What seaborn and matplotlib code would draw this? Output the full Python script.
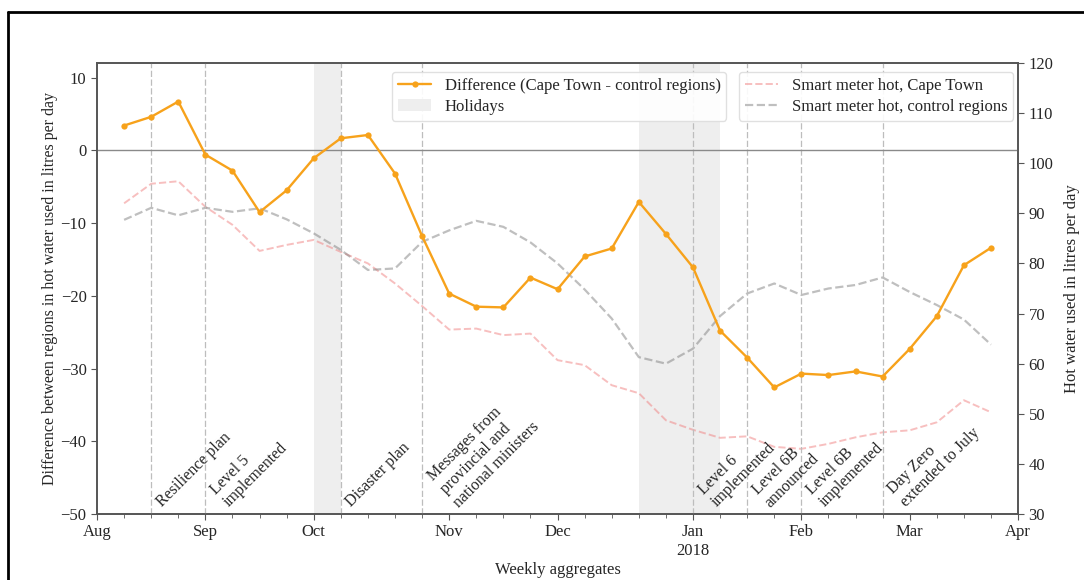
import matplotlib
matplotlib.use("Agg")
import matplotlib.pyplot as plt
import matplotlib.transforms as mtransforms
from matplotlib.lines import Line2D
from matplotlib.patches import Patch
import numpy as np
import pandas as pd
import seaborn as sns

# Weekly aggregates, week 0 = first week of August 2017
weeks = list(range(1, 34))

difference = [3.4, 4.6, 6.7, -0.6, -2.8, -8.5, -5.5, -1.1, 1.65, 2.1,
              -3.2, -11.8, -19.7, -21.5, -21.6, -17.5, -19.1, -14.6, -13.5, -7.1,
              -11.5, -16.1, -24.8, -28.5, -32.6, -30.7, -30.9, -30.4, -31.1, -27.3,
              -22.8, -15.8, -13.4]

hot_cape_town = [92.0, 95.9, 96.4, 91.3, 87.7, 82.5, 83.7, 84.7, 82.3, 80.0,
                 76.0, 71.5, 66.8, 67.0, 65.7, 66.0, 60.7, 59.7, 55.7, 54.1,
                 48.7, 46.8, 45.2, 45.5, 43.4, 43.0, 44.0, 45.3, 46.3, 46.7,
                 48.3, 52.7, 50.3]

hot_control = [88.7, 91.1, 89.6, 91.1, 90.3, 91.0, 88.8, 86.0, 82.7, 78.7,
               79.0, 84.3, 86.6, 88.5, 87.3, 84.2, 80.0, 74.8, 69.0, 61.3,
               60.0, 63.0, 69.5, 74.0, 76.0, 73.7, 75.0, 75.7, 77.2, 74.3,
               71.7, 68.8, 63.8]

month_ticks = [0, 4, 8, 13, 17, 22, 26, 30, 34]
month_labels = ["Aug", "Sep", "Oct", "Nov", "Dec", "Jan\n2018", "Feb", "Mar", "Apr"]

holidays = [(8, 9), (20, 23)]

event_weeks = [2, 4, 9, 12, 22, 24, 26, 29]
event_labels = ["Resilience plan", "Level 5\nimplemented", "Disaster plan",
                "Messages from\nprovincial and\nnational ministers",
                "Level 6\nimplemented", "Level 6B\nannounced",
                "Level 6B\nimplemented", "Day Zero\nextended to July"]

sns.set_style("ticks")
plt.rcParams["font.family"] = ["Liberation Serif", "DejaVu Serif"]
plt.rcParams["font.size"] = 12

df = pd.DataFrame({"week": weeks, "difference": difference,
                   "cape_town": hot_cape_town, "control": hot_control})

fig = plt.figure(figsize=(10.84, 5.8), dpi=100)
ax = fig.add_axes([0.0895, 0.1138, 0.8497, 0.7776])
ax2 = ax.twinx()

orange = "#f7a21b"
holiday_color = "#eeeeee"
pink = "#f08080"
grey = "#808080"

# holiday shading behind everything
for start, end in holidays:
    ax2.axvspan(start, end, color=holiday_color, lw=0, zorder=0)

# smart meter series on the right axis
sns.lineplot(data=df, x="week", y="cape_town", ax=ax2, color=pink,
             alpha=0.5, lw=1.4, ls="--", legend=False, zorder=2)
sns.lineplot(data=df, x="week", y="control", ax=ax2, color=grey,
             alpha=0.5, lw=1.6, ls="--", legend=False, zorder=2)

# policy events and zero line
for w in event_weeks:
    ax.axvline(w, color="#bdbdbd", lw=0.9, ls=(0, (5, 2)), zorder=1)
ax.axhline(0, color="#8a8a8a", lw=1.0, zorder=1)

# difference series on the left axis
sns.lineplot(data=df, x="week", y="difference", ax=ax, color=orange,
             lw=1.7, marker="o", markersize=4.5, markeredgewidth=0,
             legend=False, zorder=5)

ax.set_zorder(ax2.get_zorder() + 1)
ax.patch.set_visible(False)

ax.set_xlim(0, 34)
ax.set_ylim(-50, 12)
ax2.set_ylim(30, 120)
ax.set_yticks([10, 0, -10, -20, -30, -40, -50])
ax2.set_yticks(range(30, 121, 10))
ax.set_xticks(month_ticks)
ax.set_xticklabels(month_labels)
ax.set_xticks(range(0, 35), minor=True)
ax.tick_params(axis="x", which="minor", length=3, color="#555555")
ax.tick_params(axis="both", which="major", length=4, labelsize=12, color="#555555")
ax2.tick_params(axis="y", length=4, labelsize=12, color="#555555")

for a in (ax, ax2):
    for s in a.spines.values():
        s.set_color("#555555")
        s.set_linewidth(1.2)

ax.set_xlabel("Weekly aggregates", fontsize=12, labelpad=2)
ax.set_ylabel("Difference between regions in hot water used in litres per day",
              fontsize=11.5, labelpad=2)
ax2.set_ylabel("Hot water used in litres per day", fontsize=12, labelpad=8)

# event annotations along the bottom
trans = mtransforms.blended_transform_factory(ax.transData, ax.transAxes)
for w, label in zip(event_weeks, event_labels):
    ax.text(w + 0.08, 0.008, label, transform=trans, rotation=45,
            ha="left", va="bottom", fontsize=11.5, zorder=6)

handles1 = [Line2D([], [], color=orange, lw=1.7, marker="o", markersize=4.5,
                   markeredgewidth=0),
            Patch(facecolor=holiday_color, edgecolor="none")]
leg1 = ax.legend(handles1, ["Difference (Cape Town - control regions)", "Holidays"],
                 loc="upper left", bbox_to_anchor=(0.3203, 0.98), borderaxespad=0,
                 fontsize=12, frameon=True, handlelength=2.0, borderpad=0.35,
                 labelspacing=0.3)
handles2 = [Line2D([], [], color=pink, alpha=0.5, lw=1.4, ls="--"),
            Line2D([], [], color=grey, alpha=0.5, lw=1.6, ls="--")]
leg2 = ax.legend(handles2, ["Smart meter hot, Cape Town", "Smart meter hot, control regions"],
                 loc="upper right", bbox_to_anchor=(0.9946, 0.98), borderaxespad=0,
                 fontsize=12, frameon=True, handlelength=2.0, borderpad=0.35,
                 labelspacing=0.3)
ax.add_artist(leg1)
for leg in (leg1, leg2):
    leg.get_frame().set_edgecolor("#dddddd")
    leg.get_frame().set_alpha(0.9)

# figure frame along the top and left edges
fig.add_artist(Line2D([8 / 1084, 8 / 1084], [0, 1 - 12 / 580], color="black",
                      lw=2, transform=fig.transFigure))
fig.add_artist(Line2D([8 / 1084, 1], [1 - 12 / 580, 1 - 12 / 580], color="black",
                      lw=2, transform=fig.transFigure))

fig.savefig("out.png", dpi=100)
